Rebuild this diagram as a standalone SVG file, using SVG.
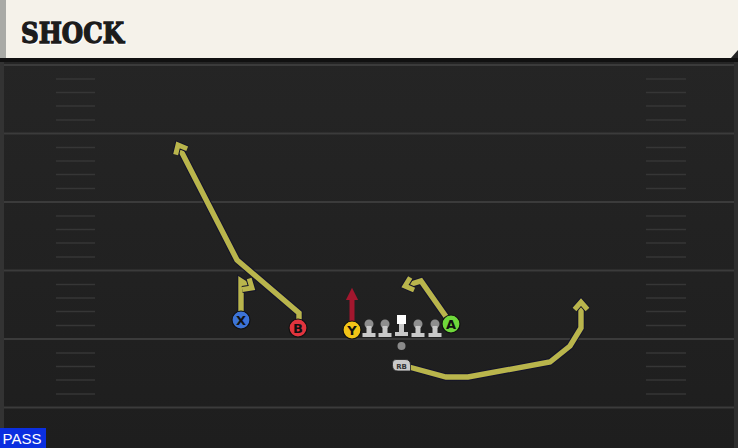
<svg xmlns="http://www.w3.org/2000/svg" width="738" height="448" viewBox="0 0 738 448">
<defs>
<linearGradient id="field" x1="0" y1="0" x2="0" y2="1">
<stop offset="0" stop-color="#262626"/>
<stop offset="1" stop-color="#1e1e1e"/>
</linearGradient>
<marker id="ah" viewBox="-6 -10 20 20" refX="5" refY="0" markerWidth="20" markerHeight="20" orient="auto" markerUnits="userSpaceOnUse">
<path d="M-2.5,-6.5 L5,0 L-2.5,6.5" fill="none" stroke="#14142a" stroke-width="7" stroke-linejoin="miter"/>
<path d="M-2.5,-6.5 L5,0 L-2.5,6.5" fill="none" stroke="#b9b54c" stroke-width="5" stroke-linejoin="miter"/>
</marker>
<marker id="ahr" viewBox="0 0 10 10" refX="5" refY="5" markerWidth="2.5" markerHeight="2.5" orient="auto" markerUnits="strokeWidth">
<path d="M0,0 L10,5 L0,10 Z" fill="#a3172e"/>
</marker>
</defs>
<style>
.yard{stroke:#3b3b3b;stroke-width:2;}
.hash{stroke:#363636;stroke-width:1.6;}
.route-o{fill:none;stroke:#14142a;stroke-width:7.5;stroke-linejoin:miter;}
.route{fill:none;stroke:#b9b54c;stroke-width:5.4;stroke-linejoin:miter;}
.lbl{font-family:"DejaVu Sans",sans-serif;font-weight:bold;font-size:13px;text-anchor:middle;fill:#111;}
.ol{fill:#c9c9c9;}
.head{fill:#8e8e8e;}
</style>
<rect x="0" y="0" width="738" height="448" fill="url(#field)"/>
<rect x="0" y="58" width="4" height="390" fill="#333"/>
<rect x="734" y="58" width="4" height="390" fill="#2e2e2e"/>
<g id="yardlines">
<line class="yard" x1="4" y1="65" x2="734" y2="65"/>
<line class="yard" x1="4" y1="133.5" x2="734" y2="133.5"/>
<line class="yard" x1="4" y1="202" x2="734" y2="202"/>
<line class="yard" x1="4" y1="270.5" x2="734" y2="270.5"/>
<line class="yard" x1="4" y1="339" x2="734" y2="339"/>
<line class="yard" x1="4" y1="407.5" x2="734" y2="407.5"/>
</g>
<g id="hashes">
<path class="hash" d="M56,79H95M56,92.5H95M56,106H95M56,120H95M56,147.5H95M56,161H95M56,174.5H95M56,188.5H95M56,216H95M56,229.5H95M56,243H95M56,257H95M56,284.5H95M56,298H95M56,311.5H95M56,325.5H95M56,353H95M56,366.5H95M56,380H95M56,394H95"/>
<path class="hash" d="M646,79H686M646,92.5H686M646,106H686M646,120H686M646,147.5H686M646,161H686M646,174.5H686M646,188.5H686M646,216H686M646,229.5H686M646,243H686M646,257H686M646,284.5H686M646,298H686M646,311.5H686M646,325.5H686M646,353H686M646,366.5H686M646,380H686M646,394H686"/>
</g>
<g id="header">
<rect x="0" y="58" width="738" height="4" fill="#111"/>
<path d="M0,0 H738 V50 L731,58 H0 Z" fill="#f5f2ea"/>
<rect x="0" y="0" width="6" height="58" fill="#a9aaa6"/>
<text x="21" y="43" font-family="DejaVu Serif, serif" font-weight="bold" font-size="28" textLength="103" lengthAdjust="spacingAndGlyphs" fill="#fff" stroke="#fff" stroke-width="1.4" transform="translate(1,1)">SHOCK</text>
<text x="21" y="43" font-family="DejaVu Serif, serif" font-weight="bold" font-size="28" textLength="103" lengthAdjust="spacingAndGlyphs" fill="#1c1c1c" stroke="#1c1c1c" stroke-width="1.4">SHOCK</text>
</g>
<g id="connectors">
<polyline class="route-o" points="241,311 241,281 252,288"/>
<polyline class="route" points="241,311 241,281 252,288" marker-end="url(#ah)"/>
<polyline class="route-o" points="299,320 299,313 237,260 178,145"/>
<polyline class="route" points="299,320 299,313 237,260 178,145" marker-end="url(#ah)"/>
<polyline class="route-o" points="447,318 421,281 405,286"/>
<polyline class="route" points="447,318 421,281 405,286" marker-end="url(#ah)"/>
<polyline class="route-o" points="409,367 446,377 468,377 550,362 570,346 581,328 581,302"/>
<polyline class="route" points="409,367 446,377 468,377 550,362 570,346 581,328 581,302" marker-end="url(#ah)"/>
<line x1="352" y1="321" x2="352" y2="294" stroke="#a3172e" stroke-width="5" marker-end="url(#ahr)"/>
</g>
<g id="linemen">
<g id="lt"><circle class="head" cx="369" cy="324" r="4.5"/><path class="ol" d="M366.5,326h5v7h4v4h-13v-4h4z"/></g>
<g id="lg"><circle class="head" cx="385" cy="324" r="4.5"/><path class="ol" d="M382.5,326h5v7h4v4h-13v-4h4z"/></g>
<g id="c"><rect x="397" y="315" width="9" height="9" fill="#fff"/><path class="ol" d="M399,324h5v8h4v4h-13v-4h4z"/></g>
<g id="rg"><circle class="head" cx="418" cy="324" r="4.5"/><path class="ol" d="M415.5,326h5v7h4v4h-13v-4h4z"/></g>
<g id="rt"><circle class="head" cx="435" cy="324" r="4.5"/><path class="ol" d="M432.5,326h5v7h4v4h-13v-4h4z"/></g>
</g>
<g id="ball"><circle cx="401.5" cy="346" r="4" fill="#8a8a8a"/></g>
<g id="X"><circle cx="241" cy="320" r="9" fill="#3c73d6" stroke="#111" stroke-width="1.2"/><text class="lbl" x="241" y="324.5">X</text></g>
<g id="B"><circle cx="298" cy="328" r="9" fill="#e2343e" stroke="#111" stroke-width="1.2"/><text class="lbl" x="298" y="332.5">B</text></g>
<g id="Y"><circle cx="352" cy="330" r="9" fill="#f2c417" stroke="#111" stroke-width="1.2"/><text class="lbl" x="352" y="334.5">Y</text></g>
<g id="A"><circle cx="451" cy="324" r="9" fill="#6fd83b" stroke="#111" stroke-width="1.2"/><text class="lbl" x="451" y="328.5">A</text></g>
<g id="RB"><path d="M396,359.5 H405 Q410.5,359.5 410.5,365 V371 H398 Q392.5,371 392.5,365.5 V363 Q392.5,359.5 396,359.5 Z" fill="#c9c9c9" stroke="#222" stroke-width="0.8"/><text x="401.5" y="368.5" font-family="DejaVu Sans, sans-serif" font-weight="bold" font-size="7" text-anchor="middle" fill="#333">RB</text></g>
<g id="pass"><rect x="0" y="428" width="46" height="20" fill="#0b2fe0"/><text x="22" y="444" font-family="Liberation Sans, Arial, sans-serif" font-size="15" text-anchor="middle" fill="#fff">PASS</text></g>
</svg>
